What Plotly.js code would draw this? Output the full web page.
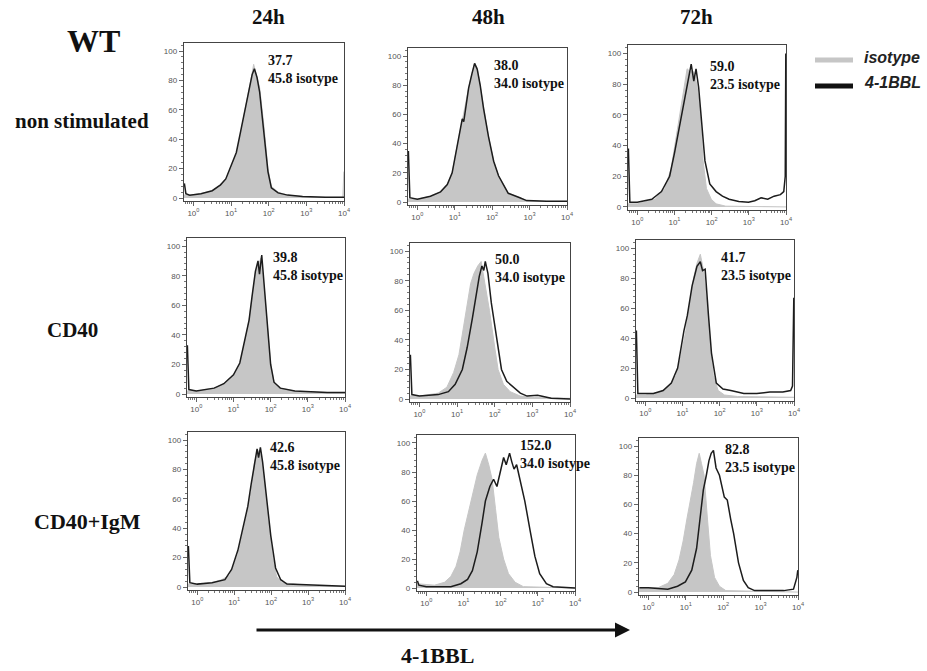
<!DOCTYPE html>
<html>
<head>
<meta charset="utf-8">
<script src="https://cdn.plot.ly/plotly-3.0.1.min.js"></script>
<style>html,body{margin:0;padding:0;background:#fff}#chart{width:927px;height:671px}</style>
</head>
<body>
<div id="chart"></div>
<script>
// ---------------- DATA ----------------
const timepoints = ['24h', '48h', '72h'];
const conditions = ['non stimulated', 'CD40', 'CD40+IgM'];
const groupLabel = 'WT';
const markerLabel = '4-1BBL';
const seriesNames = ['isotype', '4-1BBL'];
// MFI values per panel (row-major: condition x timepoint)
const mfi_4_1BBL = [37.7, 38.0, 59.0, 39.8, 50.0, 41.7, 42.6, 152.0, 82.8];
const mfi_isotype = [45.8, 34.0, 23.5, 45.8, 34.0, 23.5, 45.8, 34.0, 23.5];
const xTickVals = [1, 10, 100, 1000, 10000];
const xTickText = ['10<sup>0</sup>', '10<sup>1</sup>', '10<sup>2</sup>', '10<sup>3</sup>', '10<sup>4</sup>'];
const yTickVals = [0, 20, 40, 60, 80, 100];

// Histograms: x in log10(fluorescence), y in % of max
// non stimulated, 24h
const iso_ns24_x = [-0.25,-0.1,0.2,0.5,0.72,0.86,0.99,1.14,1.26,1.38,1.49,1.56,1.6,1.69,1.76,1.87,1.98,2.07,2.25,2.5,2.9,3.5,3.97,3.995];
const iso_ns24_y = [2,2,3,5,9,13,20,30,45,60,75,85,91,83,75,50,20,8,4,2,1,0.5,0.5,18];
const bbl_ns24_x = [-0.24,-0.2,-0.1,0.2,0.5,0.72,0.86,0.99,1.14,1.26,1.38,1.49,1.56,1.62,1.69,1.76,1.87,1.98,2.07,2.25,2.5,2.9,3.5,4];
const bbl_ns24_y = [10,3,2,3,5,9,13,21,31,46,61,75,84,88,82,72,45,18,7,3.5,2,1,0.5,0.5];
// non stimulated, 48h
const iso_ns48_x = [-0.25,0,0.35,0.62,0.8,0.93,1.04,1.15,1.22,1.28,1.37,1.46,1.53,1.6,1.68,1.77,1.9,2.04,2.17,2.3,2.43,2.74,2.92,3.45,4];
const iso_ns48_y = [2,2,4,7,12,20,35,50,58,65,78,88,95,92,80,65,45,28,18,12,6,3,1,0.5,0.5];
const bbl_ns48_x = [-0.24,-0.2,0,0.35,0.62,0.8,0.93,1.04,1.15,1.2,1.24,1.28,1.37,1.46,1.53,1.6,1.68,1.77,1.9,2.04,2.17,2.3,2.43,2.74,2.92,3.45,4];
const bbl_ns48_y = [35,3,2,4,7,12,20,35,50,57,55,63,78,88,95,91,80,64,45,28,18,12,6,3,1,0.5,0.5];
// non stimulated, 72h
const iso_ns72_x = [-0.25,0,0.48,0.74,0.91,1.04,1.17,1.26,1.34,1.43,1.52,1.6,1.69,1.77,1.86,1.99,2.12,2.38,4];
const iso_ns72_y = [2,2,5,12,25,45,65,80,90,88,88,80,62,30,12,5,2,0.5,0];
const bbl_ns72_x = [-0.24,-0.2,0,0.39,0.65,0.87,1.0,1.13,1.26,1.39,1.45,1.52,1.58,1.65,1.73,1.82,1.95,2.12,2.29,2.47,2.73,2.99,3.16,3.33,3.51,3.68,3.85,3.94,3.98,3.995];
const bbl_ns72_y = [38,3,3,5,10,20,35,52,70,85,93,82,90,78,55,30,15,10,7,5,3.5,3,4,6,5,7,8,10,20,100];
// CD40, 24h
const iso_cd24_x = [-0.25,0,0.48,0.74,1.0,1.17,1.3,1.42,1.5,1.59,1.68,1.74,1.83,1.91,2.0,2.09,2.26,2.65,3.09,3.52,4];
const iso_cd24_y = [2,2,4,7,13,20,35,50,65,82,88,92,70,45,20,8,4,2,1.5,1,1];
const bbl_cd24_x = [-0.24,-0.2,0,0.48,0.74,1.0,1.17,1.3,1.42,1.5,1.59,1.66,1.7,1.76,1.83,1.91,2.0,2.09,2.26,2.65,3.09,3.52,4];
const bbl_cd24_y = [33,3,2,4,7,13,21,35,50,66,83,90,81,94,72,46,20,8,4,2,1.5,1,1];
// CD40, 48h
const iso_cd48_x = [-0.25,0,0.5,0.73,0.91,1.05,1.18,1.27,1.36,1.45,1.55,1.64,1.73,1.86,2.0,2.09,2.23,2.41,2.68,3.05,4];
const iso_cd48_y = [2,2,4,8,18,30,50,65,78,85,90,93,80,60,35,20,10,5,2,1,0.5];
const bbl_cd48_x = [-0.24,-0.2,0,0.5,0.77,0.95,1.14,1.27,1.41,1.5,1.59,1.66,1.71,1.75,1.82,1.91,2.05,2.18,2.32,2.5,2.68,2.86,3.14,3.32,3.5,4];
const bbl_cd48_y = [30,3,2,3,5,10,20,35,55,70,83,90,87,93,85,65,40,20,12,8,4,2,2.5,1.5,0.5,0];
// CD40, 72h
const iso_cd72_x = [-0.25,0,0.39,0.65,0.83,0.96,1.09,1.19,1.3,1.39,1.48,1.57,1.65,1.74,1.83,1.96,2.13,2.48,4];
const iso_cd72_y = [2,2,4,8,15,28,45,62,80,90,96,85,65,35,15,5,2,1,0.5];
const bbl_cd72_x = [-0.24,-0.2,0,0.22,0.48,0.7,0.87,0.93,1.04,1.13,1.26,1.39,1.48,1.54,1.61,1.7,1.78,1.91,2.09,2.3,2.65,3.0,3.35,3.7,3.91,3.96,3.995];
const bbl_cd72_y = [45,3,3,3,5,10,20,30,45,55,75,88,91,85,86,55,30,10,6,5,3,3,4,4,5,8,67];
// CD40+IgM, 24h
const iso_ig24_x = [-0.25,0,0.4,0.66,0.88,0.97,1.1,1.24,1.35,1.46,1.55,1.64,1.73,1.83,1.92,2.04,2.15,2.3,2.61,2.96,4];
const iso_ig24_y = [2,2,3,5,8,13,22,38,50,65,85,93,90,70,45,20,7,3,2,1,0.5];
const bbl_ig24_x = [-0.24,-0.2,0,0.4,0.75,0.93,1.1,1.24,1.37,1.46,1.57,1.62,1.66,1.71,1.77,1.88,1.99,2.12,2.26,2.43,4];
const bbl_ig24_y = [28,3,2,3,5,12,25,40,55,70,88,94,88,95,85,62,35,13,5,2,0.5];
// CD40+IgM, 48h
const iso_ig48_x = [-0.25,0.22,0.49,0.66,0.8,0.91,1.02,1.15,1.27,1.37,1.5,1.59,1.68,1.77,1.86,1.95,2.08,2.21,2.39,2.61,4];
const iso_ig48_y = [3,2,4,8,15,25,40,55,68,78,88,93,85,75,55,35,20,10,4,1,0];
const bbl_ig48_x = [-0.24,-0.2,0,0.66,0.93,1.11,1.24,1.37,1.5,1.59,1.71,1.81,1.9,1.99,2.08,2.15,2.24,2.3,2.36,2.43,2.52,2.65,2.79,2.92,3.05,3.23,3.41,4];
const bbl_ig48_y = [5,2,1,1,3,6,12,25,45,60,70,75,70,80,90,85,93,87,82,85,75,60,40,22,10,3,1,0];
// CD40+IgM, 72h
const iso_ig72_x = [-0.25,0.26,0.52,0.69,0.82,0.93,1.03,1.12,1.21,1.29,1.36,1.42,1.49,1.58,1.66,1.77,1.9,2.07,4];
const iso_ig72_y = [3,3,6,12,22,35,50,62,75,88,95,88,80,50,25,10,4,1,0];
const bbl_ig72_x = [-0.24,0,0.52,0.78,0.99,1.16,1.29,1.38,1.47,1.55,1.62,1.68,1.74,1.81,1.9,2.03,2.11,2.2,2.28,2.41,2.54,2.67,2.84,3.62,3.88,3.97,3.995];
const bbl_ig72_y = [3,3,2,4,7,15,30,50,70,80,90,95,97,85,80,65,63,50,40,20,8,3,1,1,2,10,15];

// ---------------- BUILD ----------------
const isoSets = [[iso_ns24_x,iso_ns24_y],[iso_ns48_x,iso_ns48_y],[iso_ns72_x,iso_ns72_y],
                 [iso_cd24_x,iso_cd24_y],[iso_cd48_x,iso_cd48_y],[iso_cd72_x,iso_cd72_y],
                 [iso_ig24_x,iso_ig24_y],[iso_ig48_x,iso_ig48_y],[iso_ig72_x,iso_ig72_y]];
const bblSets = [[bbl_ns24_x,bbl_ns24_y],[bbl_ns48_x,bbl_ns48_y],[bbl_ns72_x,bbl_ns72_y],
                 [bbl_cd24_x,bbl_cd24_y],[bbl_cd48_x,bbl_cd48_y],[bbl_cd72_x,bbl_cd72_y],
                 [bbl_ig24_x,bbl_ig24_y],[bbl_ig48_x,bbl_ig48_y],[bbl_ig72_x,bbl_ig72_y]];

const W = 927, H = 671;
// panel boxes in pixels: [left, right, top, bottom]
const boxes = [[184,344,43,201],[408,567,48,205],[628,786,45,210],
               [187,345,238,397],[410,570,243,402],[636,794,240,401],
               [188,345,432,590],[417,575,435,591],[639,798,438,595]];
const labelPos = [[266,51],[492,56],[708,57],[271,248],[493,250],[719,248],[268,438],[518,436],[723,440]];

const pow10 = a => a.map(v => Math.pow(10, v));
const traces = [];
const layout = {
  width: W, height: H, margin: {l:0, r:0, t:0, b:0},
  paper_bgcolor: '#fff', plot_bgcolor: '#fff', showlegend: false,
  annotations: [], shapes: []
};
const serif = 'Liberation Serif, Times New Roman, serif';

for (let k = 0; k < 9; k++) {
  const ax = k === 0 ? '' : String(k + 1);
  traces.push({
    x: pow10(isoSets[k][0]), y: isoSets[k][1], xaxis: 'x' + ax, yaxis: 'y' + ax,
    type: 'scatter', mode: 'lines', fill: 'tozeroy', fillcolor: '#c6c6c6',
    line: {color: '#c6c6c6', width: 1}, name: seriesNames[0], hoverinfo: 'skip'
  });
  traces.push({
    x: pow10(bblSets[k][0]), y: bblSets[k][1], xaxis: 'x' + ax, yaxis: 'y' + ax,
    type: 'scatter', mode: 'lines', line: {color: '#1c1c1c', width: 1.5},
    name: seriesNames[1], hoverinfo: 'skip'
  });
  const b = boxes[k];
  layout['xaxis' + ax] = {
    domain: [b[0] / W, b[1] / W], anchor: 'y' + ax, type: 'log', range: [-0.25, 4.0],
    tickmode: 'array', tickvals: xTickVals, ticktext: xTickText,
    ticks: 'outside', ticklen: 4, tickcolor: '#666', tickwidth: 1,
    tickfont: {size: 8, color: '#555', family: 'Liberation Sans, Arial'},
    showline: true, mirror: true, linecolor: '#444', linewidth: 1.2,
    showgrid: false, zeroline: false, fixedrange: true,
    minor: {ticks: 'outside', ticklen: 2, tickcolor: '#777', dtick: 'D1', showgrid: false}
  };
  layout['yaxis' + ax] = {
    domain: [1 - b[3] / H, 1 - b[2] / H], anchor: 'x' + ax, range: [-2, 105.5],
    tickmode: 'array', tickvals: yTickVals,
    ticks: 'outside', ticklen: 4, tickcolor: '#666', tickwidth: 1,
    tickfont: {size: 8, color: '#555', family: 'Liberation Sans, Arial'},
    showline: true, mirror: true, linecolor: '#444', linewidth: 1.2,
    showgrid: false, zeroline: false, fixedrange: true,
    minor: {ticks: 'outside', ticklen: 2, tickcolor: '#777', dtick: 4, showgrid: false}
  };
  layout.annotations.push({
    xref: 'paper', yref: 'paper', x: labelPos[k][0] / W, y: 1 - labelPos[k][1] / H,
    xanchor: 'left', yanchor: 'top', align: 'left', showarrow: false,
    text: mfi_4_1BBL[k].toFixed(1) + '<br>' + mfi_isotype[k].toFixed(1) + ' isotype',
    font: {family: serif, size: 14, color: '#111', weight: 'bold'}
  });
}

// column headers
const colX = [268, 488, 696];
timepoints.forEach((t, i) => layout.annotations.push({
  xref: 'paper', yref: 'paper', x: colX[i] / W, y: 1 - 17 / H, xanchor: 'center', yanchor: 'middle',
  showarrow: false, text: t, font: {family: serif, size: 21, color: '#111', weight: 'bold'}
}));
// row labels
const rowPos = [[82,121],[72,330],[87,521]];
const rowSize = [21, 21, 22];
conditions.forEach((c, i) => layout.annotations.push({
  xref: 'paper', yref: 'paper', x: rowPos[i][0] / W, y: 1 - rowPos[i][1] / H, xanchor: 'center', yanchor: 'middle',
  showarrow: false, text: c, font: {family: serif, size: rowSize[i], color: '#111', weight: 'bold'}
}));
layout.annotations.push({
  xref: 'paper', yref: 'paper', x: 93 / W, y: 1 - 41 / H, xanchor: 'center', yanchor: 'middle',
  showarrow: false, text: groupLabel, font: {family: serif, size: 32, color: '#111', weight: 'bold'}
});
// arrow + axis label
layout.annotations.push({
  xref: 'paper', yref: 'paper', x: 630 / W, y: 1 - 630 / H, ax: -375, ay: 0,
  showarrow: true, arrowhead: 2, arrowsize: 1, arrowwidth: 3, arrowcolor: '#111', text: ''
});
layout.annotations.push({
  xref: 'paper', yref: 'paper', x: 437 / W, y: 1 - 655 / H, xanchor: 'center', yanchor: 'middle',
  showarrow: false, text: markerLabel, font: {family: serif, size: 22, color: '#111', weight: 'bold'}
});
// legend
const legY = [60, 86];
const legCol = ['#c6c6c6', '#111'];
seriesNames.forEach((n, i) => {
  layout.shapes.push({
    type: 'line', xref: 'paper', yref: 'paper',
    x0: 815 / W, x1: 853 / W, y0: 1 - legY[i] / H, y1: 1 - legY[i] / H,
    line: {color: legCol[i], width: 5}
  });
  layout.annotations.push({
    xref: 'paper', yref: 'paper', x: 862 / W, y: 1 - (legY[i] - 3) / H, xanchor: 'left', yanchor: 'middle',
    showarrow: false, text: '<i>' + n + '</i>',
    font: {family: 'Liberation Sans, Arial', size: 16, color: '#222', weight: 'bold'}
  });
});

Plotly.newPlot('chart', traces, layout, {displayModeBar: false, staticPlot: true});
</script>
</body>
</html>
